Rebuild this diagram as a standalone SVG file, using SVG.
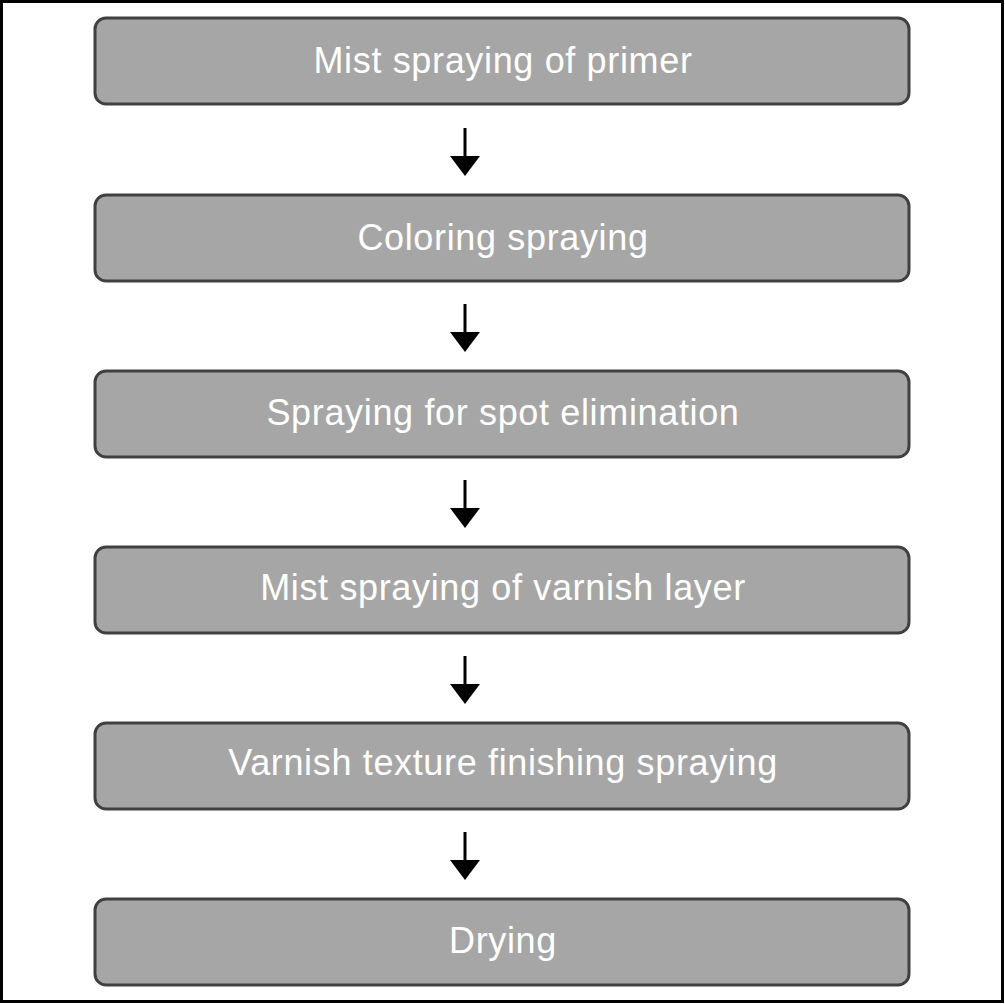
<svg xmlns="http://www.w3.org/2000/svg" width="1005" height="1004" viewBox="0 0 1005 1004">
<defs>
<style>
.box{fill:#a6a6a6;stroke:#404040;stroke-width:3}
.lbl{fill:#ffffff;font-family:"Liberation Sans",Arial,sans-serif;font-size:36px;letter-spacing:0.65px;text-anchor:middle}
.arr{stroke:#000;stroke-width:3;fill:none}
</style>
</defs>
<rect x="0" y="0" width="1005" height="1004" fill="#fff"/>
<rect x="1.5" y="1.5" width="1001" height="1000" fill="none" stroke="#000" stroke-width="3"/>
<g id="connectors">
<path class="arr" d="M465,128 V158"/><path d="M450,156 H480 L465,176 Z"/>
<path class="arr" d="M465,304 V334"/><path d="M450,332 H480 L465,352 Z"/>
<path class="arr" d="M465,480 V510"/><path d="M450,508 H480 L465,528 Z"/>
<path class="arr" d="M465,656 V686"/><path d="M450,684 H480 L465,704 Z"/>
<path class="arr" d="M465,832 V862"/><path d="M450,860 H480 L465,880 Z"/>
</g>
<g id="n1"><rect class="box" x="95" y="18" width="814" height="86" rx="11"/><text class="lbl" x="503" y="73">Mist spraying of primer</text></g>
<g id="n2"><rect class="box" x="95" y="195" width="814" height="86" rx="11"/><text class="lbl" x="503" y="250">Coloring spraying</text></g>
<g id="n3"><rect class="box" x="95" y="371" width="814" height="86" rx="11"/><text class="lbl" x="503" y="425">Spraying for spot elimination</text></g>
<g id="n4"><rect class="box" x="95" y="547" width="814" height="86" rx="11"/><text class="lbl" x="503" y="600">Mist spraying of varnish layer</text></g>
<g id="n5"><rect class="box" x="95" y="723" width="814" height="86" rx="11"/><text class="lbl" x="503" y="775">Varnish texture finishing spraying</text></g>
<g id="n6"><rect class="box" x="95" y="899" width="814" height="86" rx="11"/><text class="lbl" x="503" y="953">Drying</text></g>
</svg>
